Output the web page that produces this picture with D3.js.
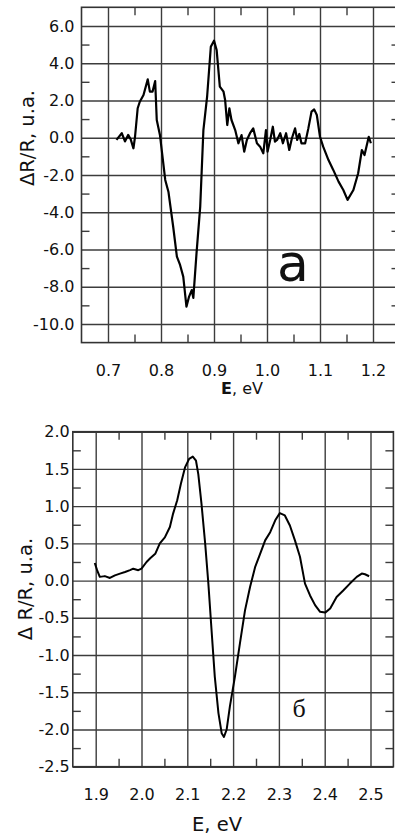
<!DOCTYPE html>
<html>
<head>
<meta charset="utf-8">
<script src="https://cdn.jsdelivr.net/npm/d3@7/dist/d3.min.js"></script>
<style>
body { margin: 0; background: #fff; }
svg { display: block; }
</style>
</head>
<body>
<svg id="chart" width="395" height="837" font-family="DejaVu Sans, sans-serif"></svg>
<script>
// panel a
var topE = [0.716,0.726,0.732,0.738,0.743,0.748,0.751,0.756,0.760,0.767,0.775,0.779,0.784,0.789,0.792,0.798,
  0.808,0.814,0.823,0.830,0.836,0.842,0.848,0.853,0.858,0.861,0.867,0.874,0.880,0.887,0.894,0.900,0.905,0.911,
  0.918,0.921,0.925,0.929,0.933,0.940,0.946,0.952,0.957,0.962,0.968,0.974,0.981,0.987,0.993,0.998,1.001,1.006,
  1.011,1.015,1.019,1.025,1.030,1.036,1.042,1.047,1.053,1.057,1.061,1.065,1.072,1.078,1.084,1.089,1.094,1.100,
  1.106,1.116,1.125,1.135,1.144,1.152,1.163,1.172,1.179,1.184,1.192,1.196];
var topV = [-0.12,0.24,-0.2,0.15,-0.1,-0.57,0.05,1.58,1.93,2.29,3.13,2.47,2.47,3.04,0.95,0.15,
  -2.27,-2.9,-4.78,-6.39,-6.83,-7.46,-9.07,-8.53,-8.18,-8.6,-6.21,-3.7,0.41,2.2,4.88,5.21,4.7,2.74,
  2.47,2.02,0.68,1.58,0.95,0.41,-0.3,0.14,-0.75,-0.12,0.24,0.5,-0.3,-0.48,-0.84,0.41,-0.75,-0.12,
  0.59,-0.21,-0.12,0.24,-0.3,0.24,-0.66,-0.03,0.5,-0.12,0.2,-0.3,-0.3,0.5,1.4,1.52,1.22,0.05,
  -0.48,-1.2,-1.73,-2.36,-2.81,-3.34,-2.81,-1.91,-0.66,-0.93,0.05,-0.3];
var topXTicks = [0.7,0.8,0.9,1.0,1.1,1.2];
var topXLabels = ["0.7","0.8","0.9","1.0","1.1","1.2"];
var topXMinor = [0.75,0.85,0.95,1.05,1.15];
var topYTicks = [6,4,2,0,-2,-4,-6,-8,-10];
var topYLabels = ["6.0","4.0","2.0","0.0","-2.0","-4.0","-6.0","-8.0","-10.0"];
var topYMinor = [5,3,1,-1,-3,-5,-7,-9];

// panel б
var botE = [1.898,1.903,1.909,1.920,1.931,1.942,1.953,1.964,1.975,1.982,1.993,2.000,2.011,2.019,2.030,2.040,
  2.051,2.062,2.069,2.078,2.086,2.095,2.104,2.112,2.119,2.124,2.131,2.139,2.146,2.153,2.160,2.168,2.175,2.180,
  2.186,2.193,2.204,2.215,2.226,2.237,2.248,2.259,2.270,2.281,2.292,2.302,2.313,2.324,2.335,2.346,2.357,2.368,
  2.379,2.390,2.401,2.412,2.426,2.441,2.455,2.470,2.481,2.488,2.497];
var botV = [0.236,0.14,0.05,0.06,0.035,0.07,0.094,0.115,0.14,0.16,0.14,0.16,0.25,0.3,0.36,0.5,
  0.58,0.72,0.9,1.08,1.3,1.52,1.635,1.666,1.61,1.43,1.03,0.5,-0.04,-0.67,-1.29,-1.78,-2.05,-2.1,
  -2.0,-1.69,-1.29,-0.84,-0.4,-0.085,0.18,0.36,0.54,0.65,0.81,0.906,0.875,0.74,0.54,0.32,-0.04,-0.2,
  -0.33,-0.42,-0.43,-0.375,-0.22,-0.13,-0.04,0.05,0.094,0.085,0.058];
var botXTicks = [1.9,2.0,2.1,2.2,2.3,2.4,2.5];
var botXLabels = ["1.9","2.0","2.1","2.2","2.3","2.4","2.5"];
var botXMinor = [1.95,2.05,2.15,2.25,2.35,2.45];
var botYTicks = [2.0,1.5,1.0,0.5,0,-0.5,-1.0,-1.5,-2.0,-2.5];
var botYLabels = ["2.0","1.5","1.0","0.5","0.0","-0.5","-1.0","-1.5","-2.0","-2.5"];
var botYMinor = [1.75,1.25,0.75,0.25,-0.25,-0.75,-1.25,-1.75,-2.25];

var svg = d3.select("#chart");

function drawPanel(p) {
    var x = d3.scaleLinear().domain(p.xDomain).range([p.left, p.right]);
    var y = d3.scaleLinear().domain(p.yDomain).range([p.bottom, p.top]);
    var h = p.bottom - p.top, w = p.right - p.left;
    var g = svg.append("g");

    // grid
    g.append("g").attr("class", "grid")
        .attr("transform", "translate(0," + p.bottom + ")")
        .call(d3.axisBottom(x).tickValues(p.xTicks).tickSize(-h).tickFormat(""));
    g.append("g").attr("class", "grid")
        .attr("transform", "translate(" + p.left + ",0)")
        .call(d3.axisLeft(y).tickValues(p.yTicks).tickSize(-w).tickFormat(""));

    // minor ticks, inward on all sides
    g.append("g").attr("class", "minor").attr("transform", "translate(0," + p.bottom + ")")
        .call(d3.axisBottom(x).tickValues(p.xMinor).tickSize(-8).tickFormat(""));
    g.append("g").attr("class", "minor").attr("transform", "translate(0," + p.top + ")")
        .call(d3.axisTop(x).tickValues(p.xMinor).tickSize(-8).tickFormat(""));
    g.append("g").attr("class", "minor").attr("transform", "translate(" + p.left + ",0)")
        .call(d3.axisLeft(y).tickValues(p.yMinor).tickSize(-8).tickFormat(""));
    g.append("g").attr("class", "minor").attr("transform", "translate(" + p.right + ",0)")
        .call(d3.axisRight(y).tickValues(p.yMinor).tickSize(-8).tickFormat(""));

    g.selectAll(".domain").remove();
    g.selectAll(".grid line").attr("stroke", "#3c3c3c").attr("stroke-width", 1.4);
    g.selectAll(".minor line").attr("stroke", "#3c3c3c").attr("stroke-width", 1.4);

    g.append("rect")
        .attr("x", p.left).attr("y", p.top).attr("width", w).attr("height", h)
        .attr("fill", "none").attr("stroke", "#333").attr("stroke-width", 1.6);

    // tick labels
    var xl = g.append("g").attr("transform", "translate(0," + p.bottom + ")")
        .call(d3.axisBottom(x).tickValues(p.xTicks).tickSize(0).tickPadding(p.xPad)
            .tickFormat(function(d, i) { return p.xLabels[i]; }));
    var yl = g.append("g").attr("transform", "translate(" + p.left + ",0)")
        .call(d3.axisLeft(y).tickValues(p.yTicks).tickSize(0).tickPadding(p.yPad)
            .tickFormat(function(d, i) { return p.yLabels[i]; }));
    xl.select(".domain").remove();
    yl.select(".domain").remove();
    xl.attr("font-family", null).attr("font-size", null);
    yl.attr("font-family", null).attr("font-size", null);
    xl.selectAll("text").attr("font-size", 16).attr("fill", "#111");
    yl.selectAll("text").attr("font-size", 16).attr("fill", "#111");

    // curve
    var pts = p.E.map(function(e, i) { return [e, p.V[i]]; });
    g.append("path")
        .datum(pts)
        .attr("fill", "none")
        .attr("stroke", "#000")
        .attr("stroke-width", p.lw)
        .attr("stroke-linejoin", "round")
        .attr("d", d3.line().x(function(d) { return x(d[0]); }).y(function(d) { return y(d[1]); }));

    // axis title
    g.append("text")
        .attr("transform", "translate(" + p.yTitleX + "," + p.yTitleY + ") rotate(-90)")
        .attr("text-anchor", "middle")
        .attr("font-size", 19.5)
        .attr("fill", "#111")
        .text(p.yTitle);

    return g;
}

var a = drawPanel({
    xDomain: [0.65, 1.25], yDomain: [-11, 7],
    left: 81.5, right: 399.5, top: 7.3, bottom: 342.6,
    xTicks: topXTicks, xLabels: topXLabels, xMinor: topXMinor,
    yTicks: topYTicks, yLabels: topYLabels, yMinor: topYMinor,
    xPad: 22, yPad: 7, E: topE, V: topV, lw: 2.2,
    yTitle: "ΔR/R, u.a.", yTitleX: 34, yTitleY: 138
});
var xt = a.append("text").attr("x", 242).attr("y", 394).attr("text-anchor", "middle")
    .attr("font-size", 16).attr("fill", "#111");
xt.append("tspan").attr("font-weight", "bold").text("E");
xt.append("tspan").text(", eV");
a.append("text").attr("x", 293).attr("y", 281).attr("text-anchor", "middle")
    .attr("font-size", 52).attr("fill", "#111").text("a");

var b = drawPanel({
    xDomain: [1.85, 2.55], yDomain: [-2.5, 2.0],
    left: 72.8, right: 393.4, top: 431.7, bottom: 766.7,
    xTicks: botXTicks, xLabels: botXLabels, xMinor: botXMinor,
    yTicks: botYTicks, yLabels: botYLabels, yMinor: botYMinor,
    xPad: 22, yPad: 3, E: botE, V: botV, lw: 2,
    yTitle: "Δ R/R, u.a.", yTitleX: 32, yTitleY: 589
});
b.append("text").attr("x", 217).attr("y", 831).attr("text-anchor", "middle")
    .attr("font-size", 19.5).attr("fill", "#111").text("E, eV");
b.append("text").attr("x", 299).attr("y", 717).attr("text-anchor", "middle")
    .attr("font-family", "Liberation Serif, serif").attr("font-size", 26).attr("fill", "#111").text("б");
</script>
</body>
</html>
